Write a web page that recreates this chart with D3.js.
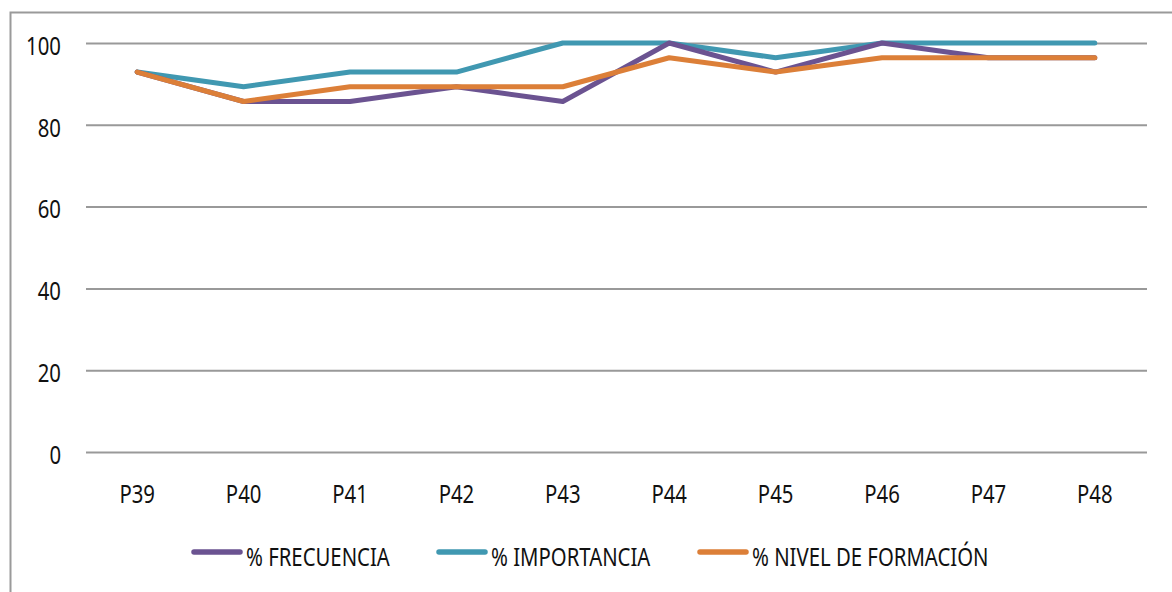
<!DOCTYPE html>
<html>
<head>
<meta charset="utf-8">
<script src="https://cdn.jsdelivr.net/npm/d3@7"></script>
<style>
  html, body { margin: 0; padding: 0; background: #fff; }
  svg { display: block; }
  text { font-family: "Noto Sans", "Open Sans", "Liberation Sans", sans-serif; fill: #111; }
</style>
</head>
<body>
<svg id="chart" width="1172" height="592"></svg>
<script>
// Question labels along the x axis
const categories = ["P39", "P40", "P41", "P42", "P43", "P44", "P45", "P46", "P47", "P48"];

// Percentages per question
const frecuencia  = [92.9, 85.7, 85.7, 89.3, 85.7, 100, 92.9, 100, 96.4, 96.4];
const importancia = [92.9, 89.3, 92.9, 92.9, 100, 100, 96.4, 100, 100, 100];
const nivel       = [92.9, 85.7, 89.3, 89.3, 89.3, 96.4, 92.9, 96.4, 96.4, 96.4];

const yTicks = [0, 20, 40, 60, 80, 100];

const seriesNames  = ["% FRECUENCIA", "% IMPORTANCIA", "% NIVEL DE FORMACIÓN"];
const seriesValues = [frecuencia, importancia, nivel];
const seriesColors = ["#6b5391", "#4098b1", "#dc7f38"];

const svg = d3.select("#chart");
const W = 1172, H = 592;
const FONT = 24.5;     // label font size
const SX = 0.83;       // horizontal squeeze for a condensed look

// Outer chart frame (left and top edges visible)
svg.append("path")
  .attr("d", `M10.5,${H} V12.5 H${W}`)
  .attr("fill", "none")
  .attr("stroke", "#9a9a9a")
  .attr("stroke-width", 2);

const plot = { left: 84, right: 1148, top: 43, bottom: 452 };

const x = d3.scaleBand().domain(categories).range([plot.left, plot.right]);
const y = d3.scaleLinear().domain([0, 100]).range([plot.bottom, plot.top]);

// Horizontal gridlines with value labels
const gridLeft = 86, gridRight = 1147;
const yAxis = d3.axisLeft(y).tickValues(yTicks).tickSize(-(gridRight - gridLeft));
const gy = svg.append("g").attr("transform", `translate(${gridLeft},0)`).call(yAxis);
gy.select(".domain").remove();
gy.selectAll(".tick line").attr("stroke", "#999").attr("stroke-width", 2);
gy.selectAll(".tick text")
  .attr("font-size", FONT)
  .attr("fill", "#111")
  .attr("x", -25 / SX)
  .attr("dy", "0.46em")
  .attr("transform", `scale(${SX},1)`);

// Category labels
const xAxis = d3.axisBottom(x).tickSize(0).tickPadding(0);
const gx = svg.append("g").attr("transform", `translate(0,${plot.bottom})`).call(xAxis);
gx.select(".domain").remove();
gx.selectAll(".tick text")
  .attr("font-size", FONT)
  .attr("fill", "#111")
  .attr("dy", 0)
  .attr("y", 51)
  .attr("transform", `scale(${SX},1)`);

// Series lines
const line = d3.line()
  .x((d, i) => x(categories[i]) + x.bandwidth() / 2)
  .y(d => y(d));

const drawOrder = [1, 0, 2];
drawOrder.forEach(k => {
  svg.append("path")
    .datum(seriesValues[k])
    .attr("d", line)
    .attr("fill", "none")
    .attr("stroke", seriesColors[k])
    .attr("stroke-width", 5)
    .attr("stroke-linejoin", "round")
    .attr("stroke-linecap", "round");
});

// Legend
const legendX = [194, 439, 700];
const legend = svg.append("g");
seriesNames.forEach((name, k) => {
  const g = legend.append("g").attr("transform", `translate(${legendX[k]},552)`);
  g.append("line")
    .attr("x1", 0).attr("x2", 46)
    .attr("y1", 0).attr("y2", 0)
    .attr("stroke", seriesColors[k])
    .attr("stroke-width", 5.5)
    .attr("stroke-linecap", "round");
  g.append("text")
    .attr("transform", `translate(52,13.5) scale(${SX},1)`)
    .attr("font-size", FONT)
    .text(name);
});
</script>
</body>
</html>
